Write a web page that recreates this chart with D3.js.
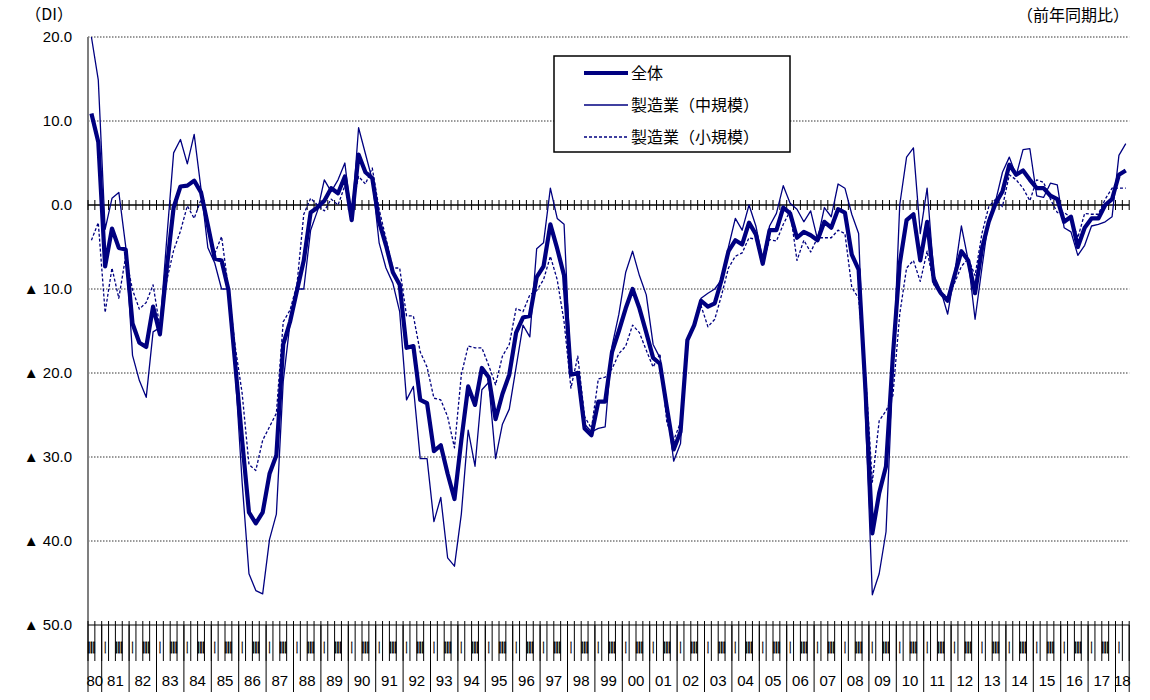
<!DOCTYPE html>
<html><head><meta charset="utf-8">
<script src="https://cdn.jsdelivr.net/npm/d3@7"></script>
<style>
html,body{margin:0;padding:0;background:#fff;}
text{font-family:"Liberation Sans",Arial,sans-serif;}
.jp{font-family:"Noto Sans CJK JP","Noto Sans CJK SC",sans-serif;}
</style></head>
<body><svg id="c" width="1150" height="700"></svg>
<script>
// ---------------- data ----------------
// Quarterly, 1980 Q3 ... 2018 Q2
const yearLabels = ["80","81","82","83","84","85","86","87","88","89","90","91","92","93","94","95","96","97","98","99","00","01","02","03","04","05","06","07","08","09","10","11","12","13","14","15","16","17","18"];
const firstQuarter = 3;   // series begins in Q3 of the first year
const lastQuarter = 2;    // series ends in Q2 of the last year
const quarterMarks = ["Ⅰ","","Ⅲ",""];   // label shown for Q1..Q4
const yTicks = [20,10,0,-10,-20,-30,-40,-50];
const yTickLabels = ["20.0","10.0","0.0","▲ 10.0","▲ 20.0","▲ 30.0","▲ 40.0","▲ 50.0"];
const seriesNames = ["全体","製造業（中規模）","製造業（小規模）"];

const total = [
  10.9, 7.5,
  -7.3, -2.8, -5.1, -5.3,
  -14.1, -16.4, -16.9, -12.1,
  -15.4, -7.5, -0.3, 2.2,
  2.3, 2.9, 1.5, -2.4,
  -6.4, -6.6, -10.1, -19,
  -28, -36.6, -37.9, -36.6,
  -32, -29.8, -16.6, -13.9,
  -10.2, -6.6, -0.9, -0.3,
  0.5, 2.0, 1.4, 3.4,
  -1.8, 6.0, 3.9, 3.2,
  -2.0, -4.8, -8.0, -9.5,
  -17, -16.8, -23.2, -23.6,
  -29.3, -28.6, -32, -35,
  -28, -21.6, -23.8, -19.4,
  -20.5, -25.5, -22.5, -20.2,
  -15.2, -13.4, -13.2, -8.6,
  -7.3, -2.3, -5.2, -8.4,
  -20.2, -20, -26.6, -27.4,
  -23.4, -23.4, -17.5, -15,
  -12.3, -10, -12.3, -15.2,
  -18.2, -18.9, -24.1, -29.1,
  -27, -16.1, -14.3, -11.4,
  -12.1, -11.7, -8.9, -5.5,
  -4.2, -4.7, -2.1, -3.5,
  -7, -3, -3, -0.3,
  -1.0, -3.9, -3.2, -3.6,
  -4.2, -2.0, -2.7, -0.5,
  -0.9, -5.9, -7.7, -22,
  -39.1, -34.3, -31.1, -18,
  -7, -1.8, -1.1, -6.6,
  -2.0, -9.1, -10.5, -11.4,
  -8.4, -5.5, -6.6, -10.5,
  -5.2, -2.0, 0.2, 1.6,
  4.8, 3.6, 4.1, 3.0,
  2.0, 2.0, 1.1, 0.7,
  -2.0, -1.4, -5.0, -2.7,
  -1.6, -1.6, 0, 0.7,
  3.6, 4.1
];
const mfgMedium = [
  20.0, 14.9,
  -2.9, 0.8, 1.5, -4.9,
  -17.9, -20.9, -22.9, -15.1,
  -14.6, -4, 6.2, 7.8,
  4.9, 8.4, 1.9, -5.1,
  -6.9, -10, -10, -20,
  -33, -43.9, -45.9, -46.3,
  -39.8, -36.8, -21, -14,
  -10, -10, -3, -0.7,
  3.0, 1.6, 3.0, 5.0,
  -1.8, 9.2, 6.1, 3.0,
  -4.5, -7.5, -9.3, -12.7,
  -23.2, -21.6, -30.2, -30.2,
  -37.7, -34.8, -42, -43,
  -36.8, -26.8, -31.1, -22,
  -21.1, -30.2, -26.1, -24.3,
  -19.3, -14.3, -15.7, -5.2,
  -4.5, 2.0, -1.6, -2.3,
  -20.2, -19.8, -26.1, -27,
  -26.6, -26.4, -16.8, -13,
  -8, -5.5, -8.4, -10.7,
  -16.6, -18.2, -23.9, -30.5,
  -28.4, -16.1, -14.3, -11.1,
  -10.5, -10, -8.9, -5,
  -1.6, -3, 0, -2.5,
  -6.5, -2.5, -1, 2.3,
  0.2, -0.5, -2.0, -0.7,
  -4.1, -0.3, -1.4, 2.5,
  2.0, -1.1, -3.4, -25,
  -46.4, -43.9, -38.9, -20,
  0, 5.7, 6.8, -3.4,
  2.0, -8.4, -10.2, -13,
  -8.2, -2.5, -6.6, -13.6,
  -7.5, -1.6, 0.5, 3.9,
  5.7, 3.5, 6.6, 6.7,
  1.1, 0.9, 2.6, 2.4,
  -2.7, -3.2, -6, -4.8,
  -2.5, -2.3, -2, -1.4,
  5.9, 7.3
];
const mfgSmall = [
  -4.2, -2.1,
  -12.8, -7.5, -11.1, -6.1,
  -10.1, -12.4, -11.6, -9.5,
  -14.6, -9, -5.4, -3.1,
  -0.1, -1.6, 0.65, -2.1,
  -5.8, -3.75, -9.9, -16.9,
  -22.4, -30.9, -31.6, -28,
  -26.4, -24.8, -13.9, -12.5,
  -9.5, -1.1, 0.8, 0,
  -0.7, 0.7, 0, 2.3,
  -0.5, 3.4, 2.5, 4.4,
  -0.5, -4, -7.5, -7.5,
  -13.2, -13.2, -17.5, -19.3,
  -23, -23.2, -25.2, -28.9,
  -20.2, -16.8, -17, -17,
  -19.1, -21.4, -18, -16.6,
  -12.3, -12.7, -10.7, -10.2,
  -8.9, -6.1, -8.9, -13.9,
  -21.8, -18, -25.2, -26.6,
  -20.7, -20.5, -19.5, -17.7,
  -16.8, -14.3, -15.2, -17.3,
  -19.3, -17.7, -25.9, -28,
  -25.9, -16.1, -14.3, -12,
  -14.5, -13.6, -10.7, -7.5,
  -6.1, -5.7, -3.9, -4.1,
  -7, -4.1, -4.3, -2.3,
  -0.7, -6.6, -4.2, -5.6,
  -3.9, -3.9, -3.9, -3.0,
  -3.4, -9.8, -11.1, -20,
  -33, -25.7, -24.5, -22.7,
  -13, -7.5, -6.6, -9.1,
  -5.5, -9.5, -10.5, -10.9,
  -9.3, -7.3, -6.4, -8.4,
  -3.4, -0.2, 0.7, -0.2,
  3.6, 3.0, 2.0, 0.5,
  3.0, 2.7, 0.7, -0.9,
  -0.9, -1.5, -3.9, -1.0,
  -1.1, -1.1, 0.7, 2.0,
  2.0, 2.0
];

// ---------------- categories ----------------
const cats = [];
yearLabels.forEach((yl, yi) => {
  const qs = yi === 0 ? firstQuarter : 1;
  const qe = yi === yearLabels.length - 1 ? lastQuarter : 4;
  for (let q = qs; q <= qe; q++) cats.push({year: yl, yi, q});
});
const nQ = cats.length;

// ---------------- layout ----------------
const svg = d3.select("#c");
const pL = 88, pR = 1129.2, pT = 37, pB = 625;
const navy = "#000080";

const x = d3.scaleBand().domain(d3.range(nQ)).range([pL, pR]).padding(0);
const bw = x.bandwidth();
const y = d3.scaleLinear().domain([-50, 20]).range([pB, pT]);
const cx = i => x(i) + bw / 2;

// dotted grid lines
svg.append("g").selectAll("line")
  .data(yTicks.filter(v => v !== 0 && v !== -50))
  .join("line")
  .attr("x1", pL).attr("x2", pR)
  .attr("y1", d => y(d)).attr("y2", d => y(d))
  .attr("stroke", "#000").attr("stroke-width", 0.8)
  .attr("stroke-dasharray", "1.5,1.5");

// Y axis (labels)
const yAxis = d3.axisLeft(y).tickValues(yTicks)
  .tickFormat((d, i) => yTickLabels[i]).tickSize(0).tickPadding(16);
const ga = svg.append("g").attr("transform", `translate(${pL},0)`).call(yAxis);
ga.select(".domain").remove();
ga.selectAll("text").attr("font-size", 15).attr("fill", "#000")
  .attr("font-family", "'Liberation Sans', Arial, sans-serif");

// Y axis line
svg.append("line").attr("x1", pL).attr("x2", pL).attr("y1", pT).attr("y2", pB)
  .attr("stroke", "#7f7f7f").attr("stroke-width", 2);

// zero line with quarter ticks
svg.append("line").attr("x1", pL).attr("x2", pR).attr("y1", y(0)).attr("y2", y(0))
  .attr("stroke", "#000").attr("stroke-width", 1.6);
const bounds = d3.range(nQ + 1).map(i => pL + i * bw);
svg.append("g").selectAll("line").data(bounds).join("line")
  .attr("x1", d => d).attr("x2", d => d)
  .attr("y1", y(0) - 5).attr("y2", y(0) + 5)
  .attr("stroke", "#000").attr("stroke-width", 1);

// bottom axis
svg.append("line").attr("x1", pL).attr("x2", pR).attr("y1", pB).attr("y2", pB)
  .attr("stroke", "#000").attr("stroke-width", 1.2);
svg.append("g").selectAll("line").data(bounds).join("line")
  .attr("x1", d => d).attr("x2", d => d)
  .attr("y1", pB - 4).attr("y2", pB + 36)
  .attr("stroke", "#000").attr("stroke-width", 1);
// year separators
const yearBounds = [pL];
cats.forEach((c, i) => { if (c.q === 1) yearBounds.push(x(i)); });
yearBounds.push(pR);
svg.append("g").selectAll("line").data(yearBounds).join("line")
  .attr("x1", d => d).attr("x2", d => d)
  .attr("y1", pB).attr("y2", 692)
  .attr("stroke", "#000").attr("stroke-width", 1);

// quarter labels (full-width glyphs squeezed horizontally to fit a quarter)
svg.append("g").selectAll("text")
  .data(cats.map((c, i) => ({i, t: quarterMarks[c.q - 1]})).filter(d => d.t))
  .join("text")
  .attr("class", "jp")
  .attr("transform", d => `translate(${cx(d.i)},653) scale(${d.t === "Ⅲ" ? 0.56 : 0.32},1)`)
  .attr("text-anchor", "middle")
  .attr("font-size", 14).attr("font-weight", "bold").attr("fill", "#000")
  .attr("stroke", "#000").attr("stroke-width", 0.9)
  .text(d => d.t);

// year labels
const yearCenters = yearLabels.map((yl, yi) => {
  const idx = cats.map((c, i) => c.yi === yi ? i : -1).filter(i => i >= 0);
  return {t: yl, x: (x(idx[0]) + x(idx[idx.length - 1]) + bw) / 2};
});
svg.append("g").selectAll("text").data(yearCenters).join("text")
  .attr("x", d => d.x).attr("y", 686)
  .attr("text-anchor", "middle").attr("font-size", 15).attr("fill", "#000")
  .text(d => d.t);

// series lines
const line = d3.line().x((d, i) => cx(i)).y(d => y(d)).curve(d3.curveLinear);
const series = [
  {name: seriesNames[0], data: total, w: 4.2, dash: null},
  {name: seriesNames[1], data: mfgMedium, w: 1.3, dash: null},
  {name: seriesNames[2], data: mfgSmall, w: 1.3, dash: "3,2"}
];
svg.append("clipPath").attr("id", "plotclip").append("rect")
  .attr("x", pL).attr("y", pT - 1).attr("width", pR - pL + 4).attr("height", pB - pT + 2);
const gl = svg.append("g").attr("clip-path", "url(#plotclip)");
[series[2], series[1], series[0]].forEach(s => {
  gl.append("path").datum(s.data)
    .attr("d", line).attr("fill", "none")
    .attr("stroke", navy).attr("stroke-width", s.w)
    .attr("stroke-linejoin", "round")
    .attr("stroke-dasharray", s.dash);
});

// legend
const lg = svg.append("g");
lg.append("rect").attr("x", 554).attr("y", 56).attr("width", 236).attr("height", 96)
  .attr("fill", "#fff").attr("stroke", "#000").attr("stroke-width", 1.5);
series.forEach((s, k) => {
  const ly = 73 + k * 32;
  lg.append("line").attr("x1", 584).attr("x2", 628).attr("y1", ly).attr("y2", ly)
    .attr("stroke", navy).attr("stroke-width", s.w).attr("stroke-dasharray", s.dash);
  lg.append("text").attr("class", "jp").attr("x", 631).attr("y", ly + 6)
    .attr("font-size", 16).attr("fill", "#000").text(s.name);
});

// corner titles
svg.append("text").attr("class", "jp").attr("x", 73).attr("y", 20)
  .attr("text-anchor", "end").attr("font-size", 16).text("（DI）");
svg.append("text").attr("class", "jp").attr("x", 1129).attr("y", 21)
  .attr("text-anchor", "end").attr("font-size", 16).text("（前年同期比）");
</script></body></html>
